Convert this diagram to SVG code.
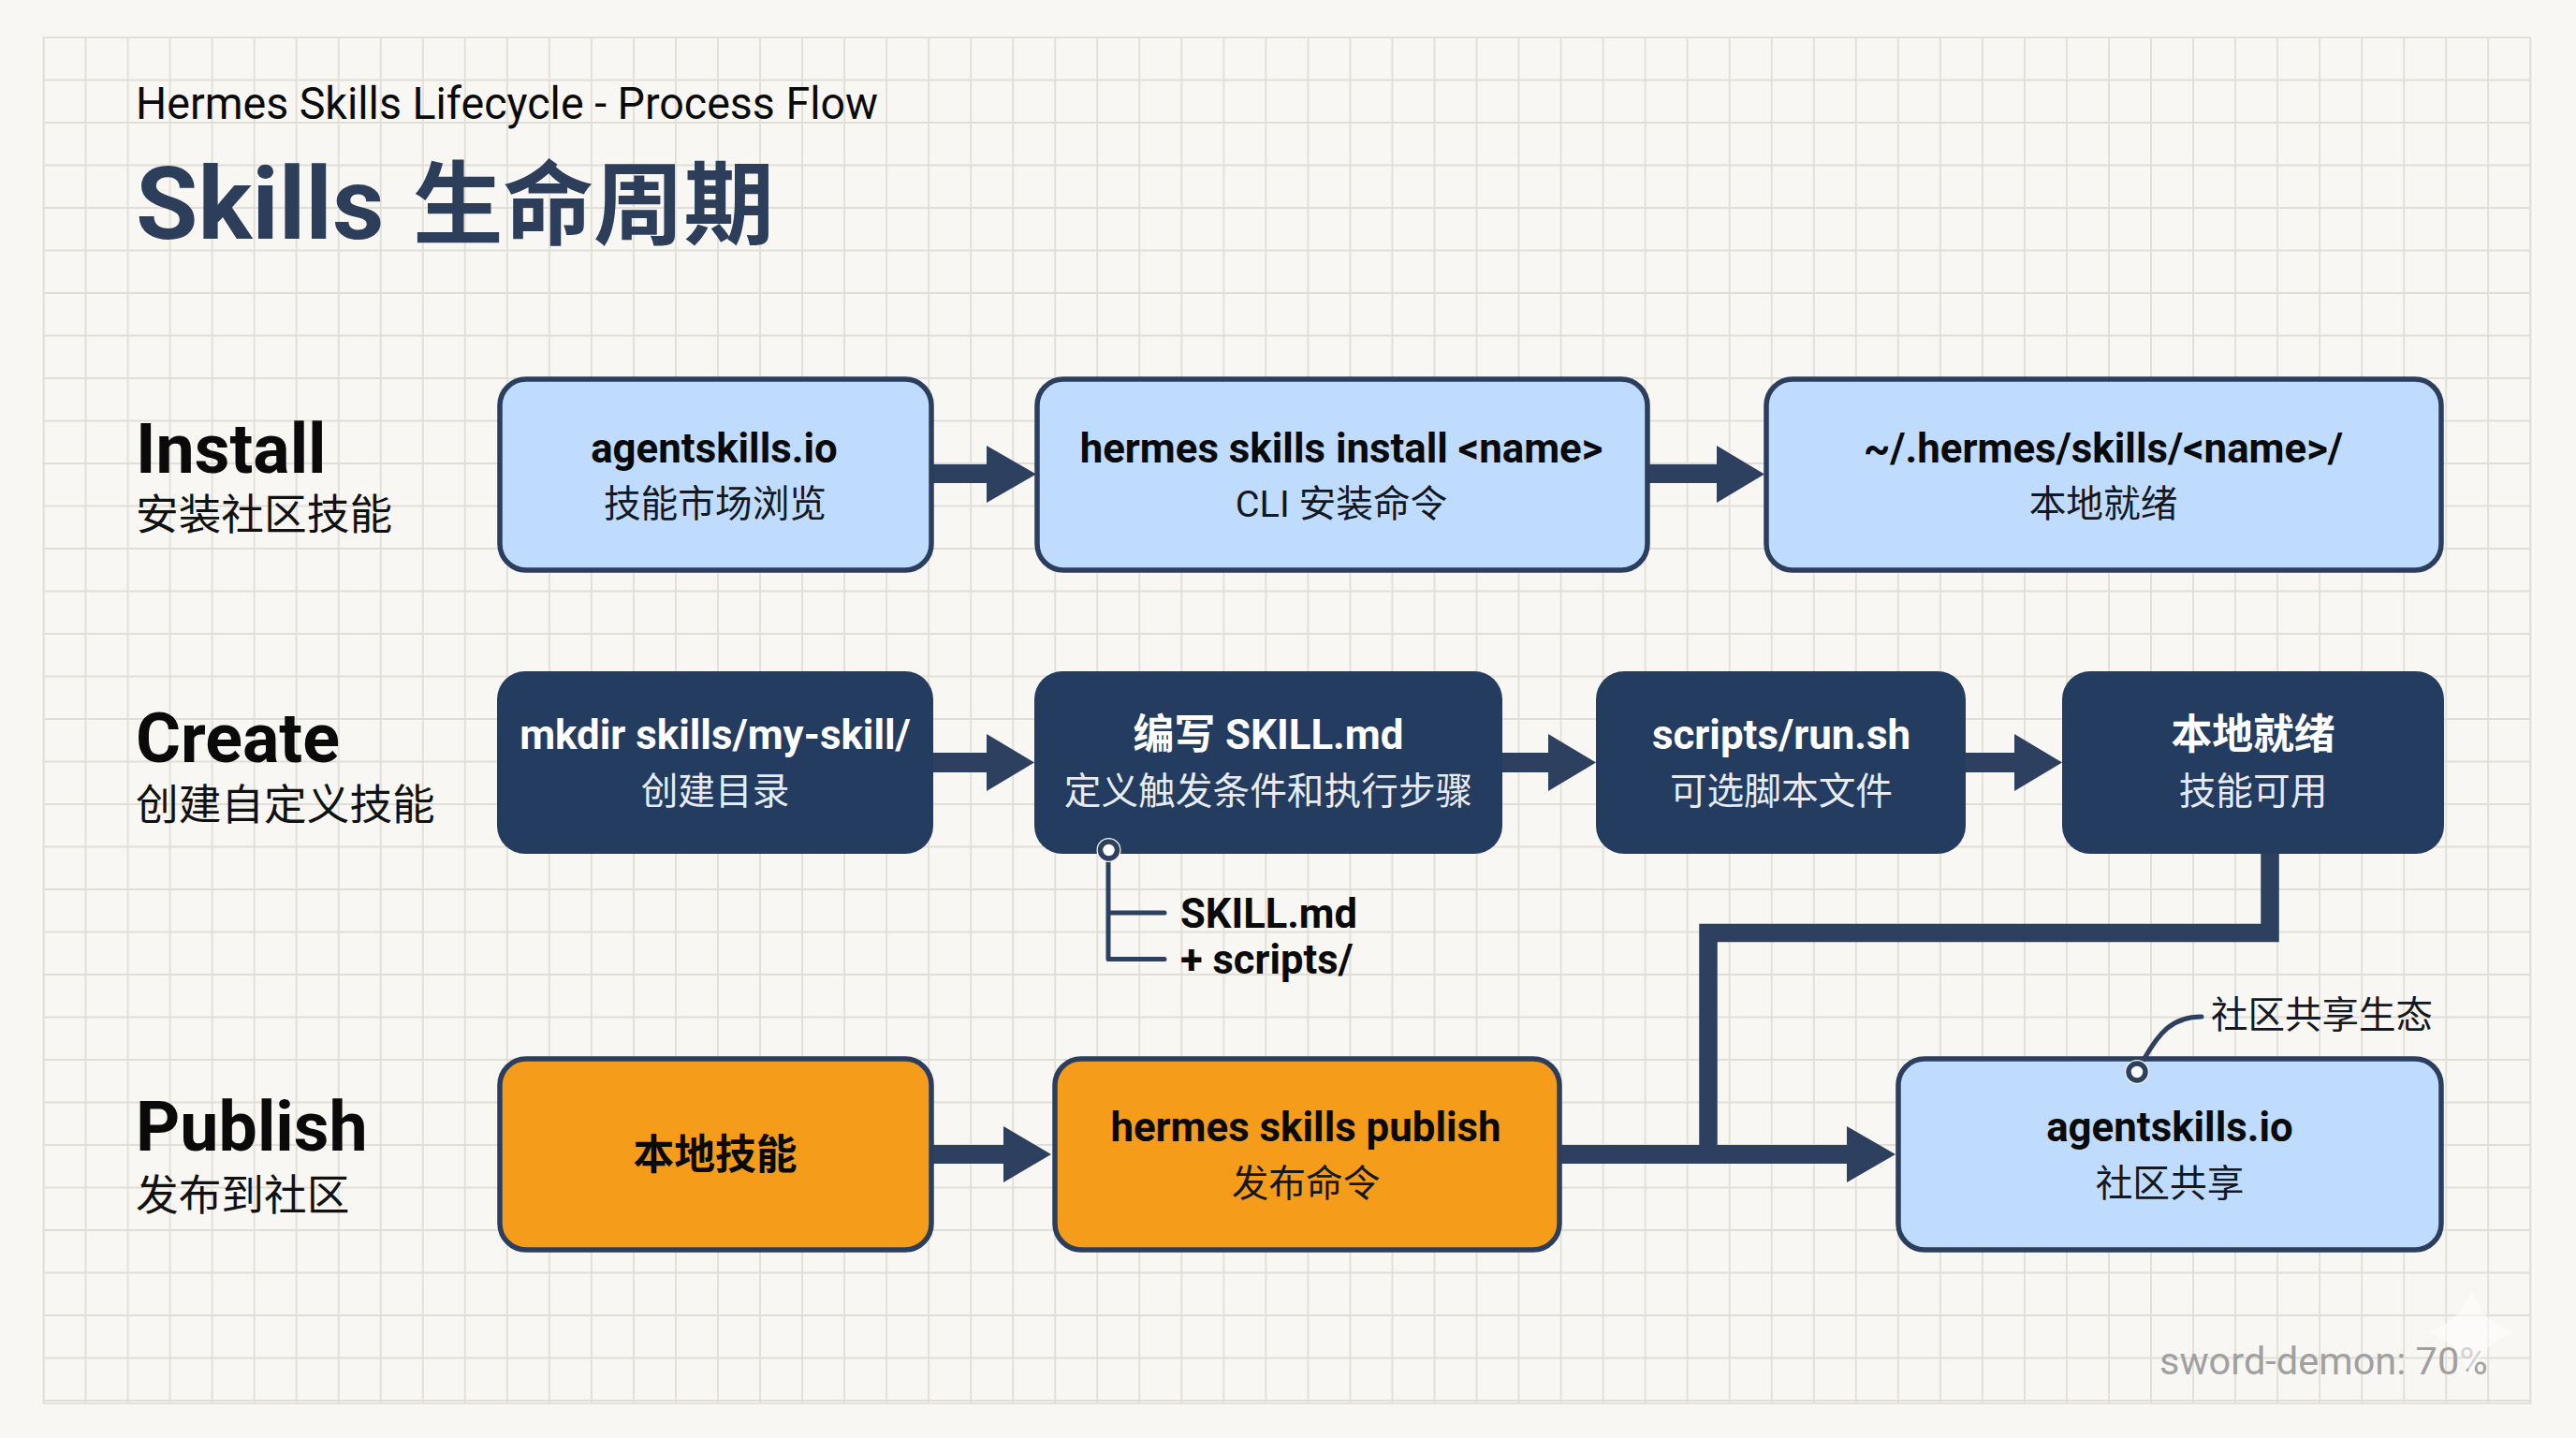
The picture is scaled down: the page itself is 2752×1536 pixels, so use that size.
<svg xmlns="http://www.w3.org/2000/svg" width="2752" height="1536" viewBox="0 0 2752 1536">
<style>
text{font-family:Roboto,"Noto Sans CJK SC",sans-serif}
.m{text-anchor:middle}
.h{font-size:43.8px;font-weight:700;fill:#0a0a0a}
.s{font-size:39.7px;font-weight:400;fill:#14181f}
.dh{font-size:43.8px;font-weight:700;fill:#fff}
.ds{font-size:39.7px;font-weight:400;fill:#e6ebf2}
.rl{font-size:73.5px;font-weight:700;fill:#0a0a0a}
.rs{font-size:45.7px;font-weight:400;fill:#111}
.b{fill:#bfdbfe;stroke:#2c3e5e;stroke-width:5.5}
.o{fill:#f59c1a;stroke:#2c3e5e;stroke-width:5.5}
.d{fill:#243c5f}
.a{fill:#2e405f}
.l{fill:none;stroke:#2e405f;stroke-width:5;stroke-linecap:round;stroke-linejoin:round}
.thick{fill:none;stroke:#2e405f;stroke-width:19.5;stroke-linejoin:miter}
</style>
<defs>
<pattern id="grid" x="24" y="17.25" width="45.03" height="45.5" patternUnits="userSpaceOnUse">
<path d="M0 22.75H45.03M22.5 0V45.5" fill="none" stroke="#e1ded8" stroke-width="1.8"/>
</pattern>
</defs>
<rect width="2752" height="1536" fill="#f8f7f3"/>
<rect x="46.5" y="40" width="2657" height="1459" fill="url(#grid)" stroke="#e1ded8" stroke-width="1.8"/>

<g id="header">
<text x="145" y="127" font-size="48" fill="#0a0a0a" textLength="793" lengthAdjust="spacingAndGlyphs">Hermes Skills Lifecycle - Process Flow</text>
<text x="145" y="255" font-size="108" font-weight="700" fill="#2c3e5a">Skills<tspan x="441" dy="-2" font-size="96.5">生命周期</tspan></text>
</g>
<g id="row-install">
<text class="rl" x="145" y="505">Install</text>
<text class="rs" x="145" y="566">安装社区技能</text>
</g>
<g id="row-create">
<text class="rl" x="145" y="814">Create</text>
<text class="rs" x="145" y="876">创建自定义技能</text>
</g>
<g id="row-publish">
<text class="rl" x="145" y="1229">Publish</text>
<text class="rs" x="145" y="1293">发布到社区</text>
</g>

<g id="connectors">
<path class="a" d="M995 496H1054V476L1107 506.5L1054 537V516H995Z"/>
<path class="a" d="M1760 496H1834V476L1885 506.5L1834 537V516H1760Z"/>
<path class="a" d="M997 804H1054V784L1105 814.5L1054 845V825H997Z"/>
<path class="a" d="M1604 804H1654V784L1705 814.5L1654 845V825H1604Z"/>
<path class="a" d="M2100 804H2152V784L2203 814.5L2152 845V825H2100Z"/>
<path class="a" d="M995 1223H1072V1203L1123 1233L1072 1263V1243H995Z"/>
<path class="a" d="M1666 1223H1973V1203L2025 1233L1973 1263V1243H1666Z"/>
<path class="thick" d="M2425 910V996.5H1825V1233"/>
</g>

<g id="node-agentskills-browse"><rect class="b" x="534" y="405" width="461" height="204" rx="28"/>
<text class="h m" x="763" y="494">agentskills.io</text><text class="s m" x="764" y="552">技能市场浏览</text></g>
<g id="node-install-cmd"><rect class="b" x="1108" y="405" width="652" height="204" rx="28"/>
<text class="h m" x="1433" y="494">hermes skills install &lt;name&gt;</text><text class="s m" x="1433" y="552">CLI 安装命令</text></g>
<g id="node-local-dir"><rect class="b" x="1887" y="405" width="721" height="204" rx="28"/>
<text class="h m" x="2247" y="494">~/.hermes/skills/&lt;name&gt;/</text><text class="s m" x="2247" y="552">本地就绪</text></g>

<g id="node-mkdir"><rect class="d" x="531" y="717" width="466" height="195" rx="30"/>
<text class="dh m" x="764" y="800">mkdir skills/my-skill/</text><text class="ds m" x="764" y="859">创建目录</text></g>
<g id="node-skillmd"><rect class="d" x="1105" y="717" width="500" height="195" rx="30"/>
<text class="dh m" x="1355" y="800">编写 SKILL.md</text><text class="ds m" x="1355" y="859">定义触发条件和执行步骤</text></g>
<g id="node-scripts"><rect class="d" x="1705" y="717" width="395" height="195" rx="30"/>
<text class="dh m" x="1903" y="800">scripts/run.sh</text><text class="ds m" x="1903" y="859">可选脚本文件</text></g>
<g id="node-ready"><rect class="d" x="2203" y="717" width="408" height="195" rx="30"/>
<text class="dh m" x="2407" y="800">本地就绪</text><text class="ds m" x="2407" y="859">技能可用</text></g>

<g id="node-local-skill"><rect class="o" x="534" y="1131" width="461" height="204" rx="28"/>
<text class="h m" x="764" y="1249">本地技能</text></g>
<g id="node-publish"><rect class="o" x="1127" y="1131" width="539" height="204" rx="28"/>
<text class="h m" x="1395" y="1219">hermes skills publish</text><text class="s m" x="1395" y="1278">发布命令</text></g>
<g id="node-community"><rect class="b" x="2028" y="1131" width="580" height="204" rx="28"/>
<text class="h m" x="2318" y="1219">agentskills.io</text><text class="s m" x="2318" y="1278">社区共享</text></g>

<g id="note-skill">
<path class="l" d="M1184 915V1024.5H1244M1184 975H1244"/>
<circle cx="1184.5" cy="908" r="13" fill="#f8f7f3"/><circle cx="1184.5" cy="908" r="9" fill="#fff" stroke="#2e405f" stroke-width="5.5"/>
<text x="1261" y="991" font-size="43.5" font-weight="700" fill="#0a0a0a">SKILL.md</text>
<text x="1261" y="1040" font-size="43.5" font-weight="700" fill="#0a0a0a">+ scripts/</text>
</g>
<g id="note-community">
<path class="l" d="M2290 1132C2306 1104 2320 1086 2352 1086"/>
<circle cx="2283" cy="1145" r="13" fill="#f8f7f3"/><circle cx="2283" cy="1145" r="9" fill="#fff" stroke="#2e405f" stroke-width="5.5"/>
<text x="2362" y="1098" font-size="39.5" fill="#14181f">社区共享生态</text>
</g>
<g id="watermark">
<text x="2307" y="1468" font-size="41.5" fill="#a0a0a0">sword-demon: 70%</text>
<path d="M2640 1377Q2650 1412 2688 1423Q2650 1434 2640 1472Q2630 1434 2592 1423Q2630 1412 2640 1377Z" fill="#fff" opacity=".55"/>
</g>
</svg>
